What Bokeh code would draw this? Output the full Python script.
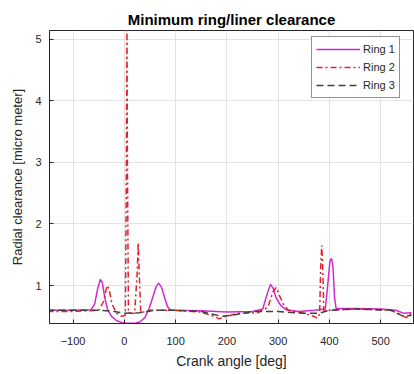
from bokeh.plotting import figure
from bokeh.models import Range1d, Legend, LegendItem, FixedTicker
from bokeh.embed import file_html
from bokeh.resources import INLINE

# Ring 1 (magenta solid)
ring1_angle = [-150, -100, -65, -58, -52, -47, -43, -38, -33, -25, -15, -5, 5, 20, 30, 40, 48, 55, 62, 67, 72, 78, 84, 90,
               150, 200, 250, 270, 278, 285, 290, 296, 305, 315, 340, 370, 392, 396, 401, 404, 407, 410, 413, 450, 500, 530, 545, 560]
ring1_clear = [0.60, 0.60, 0.61, 0.70, 0.95, 1.10, 1.05, 0.80, 0.62, 0.50, 0.43, 0.40, 0.39, 0.39, 0.41, 0.48, 0.62, 0.80, 0.98, 1.04, 0.98, 0.82, 0.66, 0.60,
               0.59, 0.57, 0.58, 0.62, 0.85, 1.02, 0.96, 0.80, 0.68, 0.61, 0.58, 0.60, 0.62, 0.95, 1.40, 1.44, 1.30, 0.80, 0.63, 0.63, 0.62, 0.60, 0.55, 0.56]

# Ring 2 (red dash-dot)
ring2_angle = [-150, -100, -50, -40, -34, -30, -24, -15, -5, 2, 4, 5, 6, 8, 20, 25, 27, 29, 32, 50, 100, 150, 175, 185, 200, 220,
               260, 280, 290, 296, 302, 310, 320, 350, 370, 377, 381, 383, 385, 387, 389, 400, 450, 520, 540, 550, 560]
ring2_clear = [0.58, 0.58, 0.60, 0.75, 1.00, 0.95, 0.70, 0.55, 0.50, 0.52, 3.0, 5.15, 3.0, 0.55, 0.55, 1.2, 1.70, 1.2, 0.56, 0.60, 0.60, 0.57, 0.50, 0.46, 0.50, 0.55,
               0.56, 0.65, 0.90, 0.97, 0.85, 0.70, 0.60, 0.55, 0.50, 0.47, 0.55, 1.3, 1.65, 1.3, 0.60, 0.60, 0.62, 0.60, 0.52, 0.48, 0.55]

# Ring 3 (dark dashed)
ring3_angle = [-150, -50, -20, 0, 30, 60, 100, 150, 190, 210, 250, 300, 350, 380, 400, 450, 520, 545, 560]
ring3_clear = [0.60, 0.60, 0.58, 0.55, 0.56, 0.60, 0.60, 0.58, 0.50, 0.52, 0.58, 0.58, 0.55, 0.55, 0.60, 0.62, 0.60, 0.50, 0.52]

x_ticks = [-100, 0, 100, 200, 300, 400, 500]
y_ticks = [1, 2, 3, 4, 5]

TXT = "#262626"
FONT = "Liberation Sans"

p = figure(width=414, height=374, output_backend="svg", toolbar_location=None,
           x_range=Range1d(-146, 564), y_range=Range1d(0.385, 5.14),
           min_border_left=49, min_border_right=1, min_border_top=30, min_border_bottom=51,
           title="Minimum ring/liner clearance")
p.title.text_font = FONT
p.title.text_font_size = "15px"
p.title.text_font_style = "bold"
p.title.text_color = "black"
p.title.align = "center"
p.title.standoff = 5

r1 = p.line(ring1_angle, ring1_clear, line_color="#d02ad0", line_width=1.5)
r2 = p.line(ring2_angle, ring2_clear, line_color="#e0202a", line_width=1.5, line_dash="6 3 2 3")
r3 = p.line(ring3_angle, ring3_clear, line_color="#404040", line_width=1.5, line_dash="7 4")

p.xaxis.ticker = FixedTicker(ticks=x_ticks)
p.yaxis.ticker = FixedTicker(ticks=y_ticks)
for ax in [p.xaxis[0], p.yaxis[0]]:
    ax.major_label_text_font = FONT
    ax.major_label_text_font_size = "11px"
    ax.major_label_text_color = TXT
    ax.axis_label_text_font = FONT
    ax.axis_label_text_font_style = "normal"
    ax.axis_label_text_color = TXT
    ax.axis_line_color = TXT
    ax.major_tick_line_color = TXT
    ax.major_tick_in = 4
    ax.major_tick_out = 0
    ax.minor_tick_line_color = None
p.xaxis.axis_label = "Crank angle [deg]"
p.yaxis.axis_label = "Radial clearance [micro meter]"
p.xaxis.axis_label_text_font_size = "14px"
p.yaxis.axis_label_text_font_size = "13px"
p.xaxis.major_label_standoff = 13
p.yaxis.major_label_standoff = 8
p.xaxis.axis_label_standoff = 5
p.yaxis.axis_label_standoff = 7

p.xgrid.grid_line_color = "#e3e3e3"
p.ygrid.grid_line_color = "#e3e3e3"
p.outline_line_color = TXT
p.outline_line_alpha = 1.0

legend = Legend(items=[LegendItem(label="Ring 1", renderers=[r1]),
                       LegendItem(label="Ring 2", renderers=[r2]),
                       LegendItem(label="Ring 3", renderers=[r3])],
                location=(262, 225))
legend.label_text_font = FONT
legend.label_text_font_size = "11px"
legend.label_text_color = TXT
legend.glyph_width = 44
legend.glyph_height = 16
legend.label_height = 16
legend.label_standoff = 3
legend.spacing = 2
legend.padding = 4
legend.margin = 0
legend.border_line_color = TXT
legend.border_line_width = 1
legend.background_fill_color = "white"
legend.background_fill_alpha = 1.0
p.add_layout(legend, "center")

open("out.html", "w").write(file_html(p, INLINE))
